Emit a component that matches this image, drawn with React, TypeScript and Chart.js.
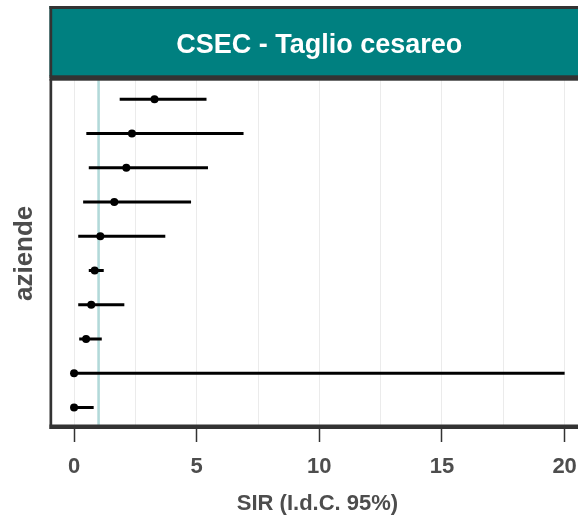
import React, { useEffect, useRef } from "react";
import { Chart, registerables } from "chart.js";

Chart.register(...registerables);

// ---- data ----
const ROW_INDEX = [1, 2, 3, 4, 5, 6, 7, 8, 9, 10];
const SIR_POINT = [3.28, 2.36, 2.13, 1.64, 1.07, 0.84, 0.7, 0.49, 0.0, 0.0];
const CI_LOW = [1.86, 0.5, 0.6, 0.37, 0.17, 0.6, 0.17, 0.21, 0.0, 0.0];
const CI_HIGH = [5.4, 6.91, 5.46, 4.77, 3.72, 1.21, 2.05, 1.13, 20.0, 0.8];
const X_TICKS = [0, 2.5, 5, 7.5, 10, 12.5, 15, 17.5, 20];
const X_LABELED = [0, 5, 10, 15, 20];
const REFERENCE_SIR = 1;
const PANEL_TITLE = "CSEC - Taglio cesareo";
const X_TITLE = "SIR (I.d.C. 95%)";
const Y_TITLE = "aziende";

const FONT = '"Liberation Sans", Arial, sans-serif';
const TEAL = "#008080";
const DARK = "#333333";
const TEXT_GREY = "#4d4d4d";

const stripPlugin = {
  id: "stripPlugin",
  afterDraw(chart: any) {
    const ctx = chart.ctx;
    const ca = chart.chartArea;
    ctx.save();
    // strip
    ctx.fillStyle = TEAL;
    ctx.fillRect(49.5, 6, 700, 70);
    ctx.fillStyle = DARK;
    ctx.fillRect(49.5, 6, 700, 3);
    ctx.fillRect(49.5, 6, 2.7, 72);
    ctx.fillRect(49.5, 75.3, 700, 5.4);
    // panel borders
    ctx.fillRect(49.5, ca.top, 2.7, ca.bottom - ca.top + 1);
    ctx.fillRect(49.5, ca.bottom - 3.5, 700, 4.5);
    // strip text
    ctx.fillStyle = "#ffffff";
    ctx.font = "bold 27px " + FONT;
    ctx.textAlign = "center";
    ctx.textBaseline = "alphabetic";
    ctx.fillText(PANEL_TITLE, 319.2, 53.3);
    ctx.restore();
  },
};

export default function App() {
  const canvasRef = useRef<HTMLCanvasElement | null>(null);

  useEffect(() => {
    if (!canvasRef.current) return;
    const errorBars = ROW_INDEX.map((r, i) => ({
      type: "scatter" as const,
      data: [
        { x: CI_LOW[i], y: r },
        { x: CI_HIGH[i], y: r },
      ],
      showLine: true,
      borderColor: "#000000",
      borderWidth: 3,
      pointRadius: 0,
      pointHoverRadius: 0,
    }));
    const chart = new Chart(canvasRef.current, {
      type: "scatter",
      data: {
        datasets: [
          {
            data: ROW_INDEX.map((r, i) => ({ x: SIR_POINT[i], y: r })),
            pointRadius: 4,
            pointBackgroundColor: "#000000",
            pointBorderWidth: 0,
            showLine: false,
          },
          ...errorBars,
          {
            data: [
              { x: REFERENCE_SIR, y: 0.4 },
              { x: REFERENCE_SIR, y: 10.6 },
            ],
            showLine: true,
            borderColor: "rgba(0,128,128,0.3)",
            borderWidth: 2.6,
            pointRadius: 0,
          },
        ] as any,
      },
      options: {
        animation: false,
        responsive: false,
        events: [],
        layout: { padding: { top: 78.7, left: 0, right: 0, bottom: 0 } },
        plugins: {
          legend: { display: false },
          tooltip: { enabled: false },
        },
        scales: {
          x: {
            type: "linear",
            min: -0.94,
            max: 20.79,
            afterBuildTicks: (scale: any) => {
              scale.ticks = X_TICKS.map((v) => ({ value: v }));
            },
            afterFit: (scale: any) => {
              scale.height = 91;
              scale.paddingLeft = 0;
              scale.paddingRight = 0;
            },
            ticks: {
              autoSkip: false,
              maxRotation: 0,
              padding: 12,
              color: TEXT_GREY,
              font: { family: FONT, size: 22, weight: "bold" },
              callback: (v: any) => (X_LABELED.includes(Number(v)) ? String(v) : ""),
            },
            grid: {
              color: "#ebebeb",
              lineWidth: 1,
              drawTicks: true,
              tickLength: 14,
              tickWidth: 1.5,
              tickColor: (c: any) =>
                c.tick && X_LABELED.includes(c.tick.value) ? DARK : "rgba(0,0,0,0)",
            },
            border: { display: false },
            title: {
              display: true,
              text: X_TITLE,
              color: TEXT_GREY,
              font: { family: FONT, size: 22, weight: "bold", lineHeight: 1.2 },
              padding: { top: 0, bottom: 1.5 },
            },
          },
          y: {
            type: "linear",
            reverse: true,
            min: 0.4,
            max: 10.6,
            afterFit: (scale: any) => {
              scale.width = 51;
              scale.paddingTop = 0;
              scale.paddingBottom = 0;
            },
            ticks: { display: false },
            grid: { display: false, drawTicks: false },
            border: { display: false },
            title: {
              display: true,
              text: Y_TITLE,
              color: TEXT_GREY,
              font: { family: FONT, size: 26, weight: "bold", lineHeight: 1.2 },
              padding: { top: 9, bottom: 0 },
            },
          },
        },
      } as any,
      plugins: [stripPlugin],
    });
    return () => chart.destroy();
  }, []);

  return (
    <div
      style={{
        position: "absolute",
        left: 0,
        top: 0,
        width: 578,
        height: 519,
        overflow: "hidden",
        background: "#ffffff",
      }}
    >
      <canvas ref={canvasRef} width={588} height={519} style={{ width: 588, height: 519, display: "block" }} />
    </div>
  );
}
